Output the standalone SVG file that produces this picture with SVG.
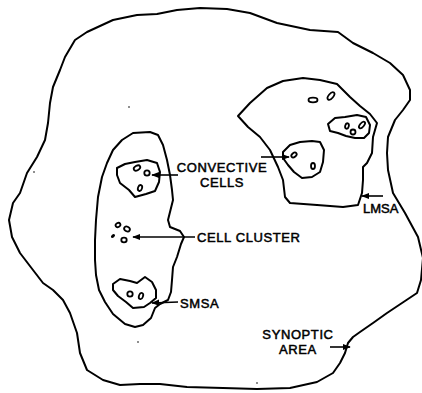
<svg xmlns="http://www.w3.org/2000/svg" width="422" height="393" viewBox="0 0 422 393">
<defs>
<style>
.ln{fill:none;stroke:#000;stroke-width:2;stroke-linejoin:round;stroke-linecap:round}
.cell{fill:none;stroke:#000;stroke-width:1.8}
.lbl{font-family:"Liberation Sans",Arial,sans-serif;font-size:13px;letter-spacing:0.6px;fill:#000;stroke:#000;stroke-width:0.5}
.ar{fill:none;stroke:#000;stroke-width:1.6;marker-end:url(#ah)}
.dot{fill:#000}
</style>
<marker id="ah" viewBox="0 0 10 10" refX="9" refY="5" markerWidth="5" markerHeight="5" orient="auto" markerUnits="strokeWidth">
<path d="M0,1 L10,5 L0,9 Z" fill="#000"/>
</marker>
</defs>
<rect width="422" height="393" fill="#fff"/>

<g id="synoptic-area">
<polygon class="ln" points="65,57 75,40 87,32 113,20 137,15 157,14 177,10 200,8 227,9 250,13 277,23 310,30 338,32 353,43 373,53 390,63 403,75 410,90 410,100 403,110 395,120 388,137 387,153 388,170 393,193 405,213 418,237 423,258 421,280 417,293 402,303 387,313 373,323 360,332 353,337 348,343 345,353 340,363 333,373 317,382 290,388 257,389 223,388 187,387 160,384 140,384 120,385 103,380 87,370 80,353 77,333 70,313 63,300 53,290 43,283 33,270 20,253 12,237 9,220 13,203 20,193 27,173 37,157 45,140 48,123 50,103 53,87 60,70"/>
<text class="lbl" x="298" y="339" text-anchor="middle">SYNOPTIC</text>
<text class="lbl" x="298" y="354" text-anchor="middle">AREA</text>
</g>

<g id="smsa">
<polygon class="ln" points="133,133 150,132 158,135 163,145 167,160 170,175 172,190 173,200 170,212 168,220 170,227 180,231 184,237 181,244 177,257 173,267 172,280 171,292 168,300 160,304 155,308 151,318 143,325 135,327 125,324 113,314 105,302 99,290 96,275 95,260 95,240 96,220 98,197 102,177 107,163 113,150 122,140"/>
<text class="lbl" x="180" y="308">SMSA</text>
</g>

<g id="smsa-cell-upper">
<polygon class="ln" points="117,168 125,164 135,162 147,160 157,163 160,172 159,182 155,191 146,194 135,197 129,190 120,183 117,175"/>
<ellipse class="cell" cx="137" cy="168" rx="3.5" ry="2.2" transform="rotate(-30 137 168)"/>
<circle class="cell" cx="147" cy="173" r="2.7"/>
<ellipse class="cell" cx="140" cy="188" rx="2" ry="3" transform="rotate(20 140 188)"/>
</g>

<g id="cell-cluster">
<ellipse class="cell" cx="118" cy="225" rx="2.5" ry="2" transform="rotate(-30 118 225)"/>
<ellipse class="cell" cx="127" cy="229" rx="3" ry="2.3" transform="rotate(30 127 229)"/>
<ellipse cx="113" cy="236" rx="2.3" ry="1.5" transform="rotate(-40 113 236)" fill="#000"/>
<ellipse class="cell" cx="124" cy="240" rx="2.7" ry="2.3"/>
<text class="lbl" x="197" y="242">CELL CLUSTER</text>
</g>

<g id="smsa-cell-lower">
<polygon class="ln" points="113,284 120,279 130,281 137,283 145,277 152,282 156,290 156,298 150,303 144,307 133,308 126,302 118,296 113,290"/>
<circle class="cell" cx="130" cy="294" r="2.7"/>
<ellipse class="cell" cx="141" cy="296" rx="2" ry="3.2" transform="rotate(20 141 296)"/>
</g>

<g id="lmsa">
<polygon class="ln" points="238,116 250,103 267,88 283,81 303,78 320,80 337,84 350,97 360,106 370,114 377,123 373,137 372,153 367,163 363,167 363,180 362,193 358,205 343,207 317,205 290,203 285,197 283,180 278,167 270,150 260,137 248,127"/>
<ellipse class="cell" cx="313" cy="100" rx="4.5" ry="2.3"/>
<ellipse class="cell" cx="331" cy="96" rx="4.5" ry="2.3" transform="rotate(-50 331 96)"/>
<text class="lbl" x="363" y="213" style="letter-spacing:0">LMSA</text>
</g>

<g id="lmsa-cell-upper">
<polygon class="ln" points="328,124 335,118 345,117 357,115 366,117 370,125 369,133 364,138 355,138 346,136 338,133 330,131"/>
<ellipse class="cell" cx="347" cy="126" rx="1.8" ry="2.8" transform="rotate(15 347 126)"/>
<circle class="cell" cx="353" cy="132" r="2.5"/>
<ellipse class="cell" cx="362" cy="125" rx="4" ry="2" transform="rotate(-50 362 125)"/>
</g>

<g id="lmsa-cell-lower">
<polygon class="ln" points="283,152 290,145 300,142 312,141 320,142 324,150 323,162 320,172 312,177 302,178 294,172 288,165 283,158"/>
<ellipse class="cell" cx="294" cy="155" rx="3" ry="2" transform="rotate(-40 294 155)"/>
<ellipse class="cell" cx="313" cy="166" rx="2" ry="3"/>
</g>

<g id="convective-cells-label">
<text class="lbl" x="222" y="171.5" text-anchor="middle">CONVECTIVE</text>
<text class="lbl" x="222" y="186.5" text-anchor="middle">CELLS</text>
</g>

<g id="connectors">
<line class="ar" x1="178" y1="175" x2="152" y2="175"/>
<line class="ar" x1="261" y1="157" x2="289" y2="157"/>
<line class="ar" x1="195" y1="237" x2="133" y2="237"/>
<line class="ar" x1="178" y1="302" x2="152" y2="303"/>
<line class="ar" x1="383" y1="196" x2="362" y2="196"/>
<line class="ar" x1="330" y1="347" x2="350" y2="347"/>
</g>

<g id="specks">
<circle class="dot" cx="129" cy="107" r="0.8"/>
<circle class="dot" cx="34" cy="172" r="0.8"/>
<circle class="dot" cx="138" cy="342" r="0.8"/>
<circle class="dot" cx="257" cy="383" r="0.8"/>
</g>
</svg>
